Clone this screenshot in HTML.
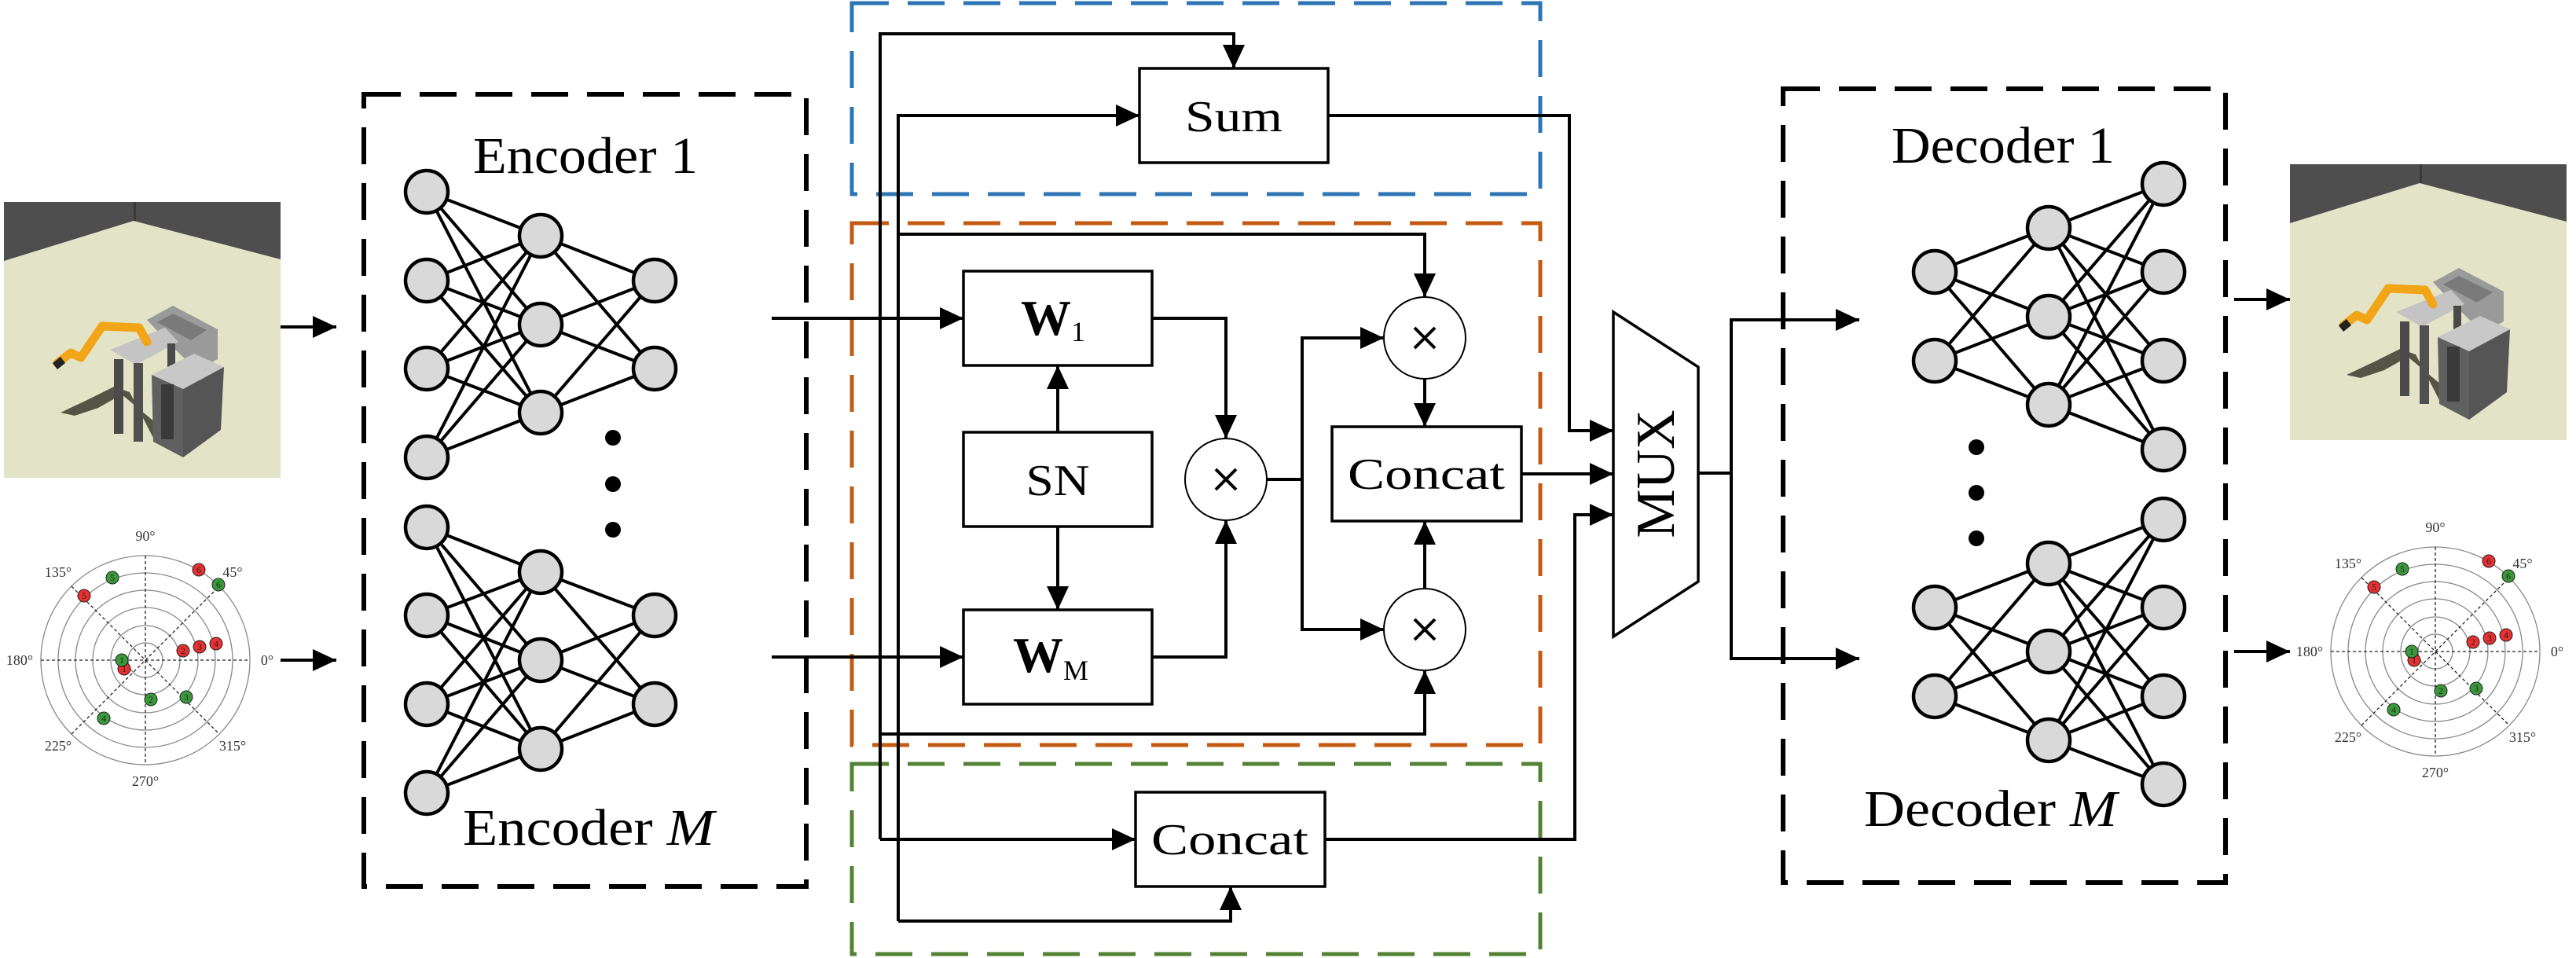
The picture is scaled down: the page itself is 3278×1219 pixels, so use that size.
<!DOCTYPE html>
<html><head><meta charset="utf-8"><style>html,body{margin:0;padding:0;background:#fff}svg{display:block}</style></head>
<body>
<svg width="3278" height="1219" viewBox="0 0 3278 1219" xmlns="http://www.w3.org/2000/svg" font-family="'Liberation Serif', serif">
<defs>
<marker id="a" markerUnits="userSpaceOnUse" markerWidth="30" markerHeight="28" refX="30" refY="14" orient="auto"><path d="M0 0L30 14L0 28z" fill="#000"/></marker>
<g id="scene">
<rect x="0" y="0" width="352" height="351" fill="#e3e3c8"/>
<polygon points="0,0 352,0 352,73 165,24 0,75" fill="#4e4e4e"/>
<polygon points="165,0 168,0 168,24 165,24" fill="#3a3a3a"/>
<polygon points="72,268 110,250 140,235 160,242 190,300 215,318 230,312 180,270 150,245 120,262 90,272" fill="#555545"/>
<polygon points="182,150 215,132 272,162 272,200 245,214 210,180" fill="#9a9a9a"/>
<polygon points="195,153 215,142 258,163 238,176" fill="#7a7a7a"/>
<polygon points="135,188 205,160 222,178 168,207" fill="#c4c4c4"/>
<rect x="140" y="200" width="12" height="95" fill="#4a4a4a"/>
<rect x="165" y="205" width="12" height="100" fill="#505050"/>
<rect x="208" y="180" width="10" height="80" fill="#4a4a4a"/>
<polygon points="188,220 242,193 280,210 228,238" fill="#c8c8c8"/>
<polygon points="188,220 228,238 228,325 190,305" fill="#606060"/>
<polygon points="228,238 280,210 276,290 228,325" fill="#555"/>
<rect x="200" y="232" width="16" height="70" fill="#3a3a3a"/>
<polyline points="68,205 85,192 98,198 125,158 172,160 182,178" fill="none" stroke="#f2a516" stroke-width="11" stroke-linecap="round" stroke-linejoin="round"/>
<path d="M62 205l10 -8l6 8l-10 8z" fill="#222"/>
</g>
<g id="polar">
<g fill="none" stroke="#888" stroke-width="1.3">
<circle r="133"/><circle r="111"/><circle r="89"/><circle r="67"/><circle r="44"/><circle r="22"/>
</g>
<g stroke="#222" stroke-width="1.3" stroke-dasharray="4,3">
<line x1="-133" y1="0" x2="133" y2="0"/><line x1="0" y1="-133" x2="0" y2="133"/>
<line x1="-94" y1="-94" x2="94" y2="94"/><line x1="-94" y1="94" x2="94" y2="-94"/>
</g>
<g stroke="#222" stroke-width="1">
<circle cx="68" cy="-115" r="8" fill="#e83030"/><circle cx="-42" cy="-105" r="8" fill="#3a9a3a"/>
<circle cx="-78" cy="-82" r="8" fill="#e83030"/><circle cx="93" cy="-96" r="8" fill="#3a9a3a"/>
<circle cx="48" cy="-12" r="8" fill="#e83030"/><circle cx="69" cy="-17" r="8" fill="#e83030"/>
<circle cx="90" cy="-21" r="8" fill="#e83030"/><circle cx="-27" cy="11" r="8" fill="#e83030"/>
<circle cx="-30" cy="0" r="8" fill="#3a9a3a"/><circle cx="7" cy="50" r="8" fill="#3a9a3a"/>
<circle cx="52" cy="47" r="8" fill="#3a9a3a"/><circle cx="-53" cy="74" r="8" fill="#3a9a3a"/>
</g>
</g>
</defs>

<use href="#scene" transform="translate(5,257)"/>
<use href="#scene" transform="translate(2914,209)"/>

<g transform="translate(185,840)" font-size="18" fill="#333">
<use href="#polar"/>
<g text-anchor="middle">
<text x="0" y="-152">90°</text><text x="-111" y="-106">135°</text><text x="111" y="-106">45°</text>
<text x="-160" y="6">180°</text><text x="155" y="6">0°</text>
<text x="-111" y="115">225°</text><text x="111" y="115">315°</text><text x="0" y="160">270°</text>
</g>
<g font-size="12" text-anchor="middle" fill="#222">
<text x="68" y="-111">6</text><text x="-42" y="-101">5</text><text x="-78" y="-78">5</text><text x="93" y="-92">6</text>
<text x="48" y="-8">2</text><text x="69" y="-13">3</text><text x="90" y="-17">4</text><text x="-27" y="15">1</text>
<text x="-30" y="4">1</text><text x="7" y="54">2</text><text x="52" y="51">3</text><text x="-53" y="78">4</text>
</g>
</g>
<g transform="translate(3099,829)" font-size="18" fill="#333">
<use href="#polar"/>
<g text-anchor="middle">
<text x="0" y="-152">90°</text><text x="-111" y="-106">135°</text><text x="111" y="-106">45°</text>
<text x="-160" y="6">180°</text><text x="155" y="6">0°</text>
<text x="-111" y="115">225°</text><text x="111" y="115">315°</text><text x="0" y="160">270°</text>
</g>
<g font-size="12" text-anchor="middle" fill="#222">
<text x="68" y="-111">6</text><text x="-42" y="-101">5</text><text x="-78" y="-78">5</text><text x="93" y="-92">6</text>
<text x="48" y="-8">2</text><text x="69" y="-13">3</text><text x="90" y="-17">4</text><text x="-27" y="15">1</text>
<text x="-30" y="4">1</text><text x="7" y="54">2</text><text x="52" y="51">3</text><text x="-53" y="78">4</text>
</g>
</g>

<g stroke="#000" stroke-width="4" marker-end="url(#a)">
<line x1="357" y1="416" x2="428" y2="416"/>
<line x1="357" y1="840" x2="428" y2="840"/>
<line x1="2843" y1="381" x2="2914" y2="381"/>
<line x1="2843" y1="829" x2="2914" y2="829"/>
</g>

<rect x="463" y="120" width="563" height="1008" fill="none" stroke="#000" stroke-width="6" stroke-dasharray="47,24"/>
<rect x="2269" y="113" width="563" height="1010" fill="none" stroke="#000" stroke-width="6" stroke-dasharray="47,24"/>
<rect x="1084" y="4" width="876" height="243" fill="none" stroke="#2e75b6" stroke-width="5" stroke-dasharray="47,24"/>
<rect x="1084" y="284" width="876" height="664" fill="none" stroke="#c55a11" stroke-width="5" stroke-dasharray="47,24"/>
<rect x="1084" y="972" width="876" height="242" fill="none" stroke="#548235" stroke-width="5" stroke-dasharray="47,24"/>

<g stroke="#000" stroke-width="4" fill="none">
<path d="M543 244L688 300M543 244L688 413M543 244L688 525M543 357L688 300M543 357L688 413M543 357L688 525M543 469L688 300M543 469L688 413M543 469L688 525M543 582L688 300M543 582L688 413M543 582L688 525M688 300L833 357M688 300L833 469M688 413L833 357M688 413L833 469M688 525L833 357M688 525L833 469"/>
<path d="M543 671L688 728M543 671L688 840M543 671L688 953M543 783L688 728M543 783L688 840M543 783L688 953M543 896L688 728M543 896L688 840M543 896L688 953M543 1009L688 728M543 1009L688 840M543 1009L688 953M688 728L833 783M688 728L833 896M688 840L833 783M688 840L833 896M688 953L833 783M688 953L833 896"/>
<path d="M2462 346L2607 290M2462 346L2607 403M2462 346L2607 515M2462 459L2607 290M2462 459L2607 403M2462 459L2607 515M2607 290L2753 234M2607 290L2753 346M2607 290L2753 459M2607 290L2753 572M2607 403L2753 234M2607 403L2753 346M2607 403L2753 459M2607 403L2753 572M2607 515L2753 234M2607 515L2753 346M2607 515L2753 459M2607 515L2753 572"/>
<path d="M2462 773L2607 717M2462 773L2607 829M2462 773L2607 942M2462 886L2607 717M2462 886L2607 829M2462 886L2607 942M2607 717L2753 661M2607 717L2753 773M2607 717L2753 886M2607 717L2753 998M2607 829L2753 661M2607 829L2753 773M2607 829L2753 886M2607 829L2753 998M2607 942L2753 661M2607 942L2753 773M2607 942L2753 886M2607 942L2753 998"/>
</g>
<g fill="#d9d9d9" stroke="#000" stroke-width="4.5">
<circle cx="543" cy="244" r="27"/><circle cx="543" cy="357" r="27"/><circle cx="543" cy="469" r="27"/><circle cx="543" cy="582" r="27"/>
<circle cx="688" cy="300" r="27"/><circle cx="688" cy="413" r="27"/><circle cx="688" cy="525" r="27"/>
<circle cx="833" cy="357" r="27"/><circle cx="833" cy="469" r="27"/>
<circle cx="543" cy="671" r="27"/><circle cx="543" cy="783" r="27"/><circle cx="543" cy="896" r="27"/><circle cx="543" cy="1009" r="27"/>
<circle cx="688" cy="728" r="27"/><circle cx="688" cy="840" r="27"/><circle cx="688" cy="953" r="27"/>
<circle cx="833" cy="783" r="27"/><circle cx="833" cy="896" r="27"/>
<circle cx="2462" cy="346" r="27"/><circle cx="2462" cy="459" r="27"/>
<circle cx="2607" cy="290" r="27"/><circle cx="2607" cy="403" r="27"/><circle cx="2607" cy="515" r="27"/>
<circle cx="2753" cy="234" r="27"/><circle cx="2753" cy="346" r="27"/><circle cx="2753" cy="459" r="27"/><circle cx="2753" cy="572" r="27"/>
<circle cx="2462" cy="773" r="27"/><circle cx="2462" cy="886" r="27"/>
<circle cx="2607" cy="717" r="27"/><circle cx="2607" cy="829" r="27"/><circle cx="2607" cy="942" r="27"/>
<circle cx="2753" cy="661" r="27"/><circle cx="2753" cy="773" r="27"/><circle cx="2753" cy="886" r="27"/><circle cx="2753" cy="998" r="27"/>
</g>
<g fill="#000">
<circle cx="780" cy="557" r="10"/><circle cx="780" cy="616" r="10"/><circle cx="780" cy="674" r="10"/>
<circle cx="2515" cy="569" r="10"/><circle cx="2515" cy="627" r="10"/><circle cx="2515" cy="685" r="10"/>
</g>
<g font-size="66" text-anchor="middle" fill="#000">
<text x="745" y="220" textLength="286" lengthAdjust="spacingAndGlyphs">Encoder 1</text>
<text x="749" y="1075" textLength="320" lengthAdjust="spacingAndGlyphs">Encoder <tspan font-style="italic">M</tspan></text>
<text x="2549" y="207" textLength="284" lengthAdjust="spacingAndGlyphs">Decoder 1</text>
<text x="2533" y="1051" textLength="322" lengthAdjust="spacingAndGlyphs">Decoder <tspan font-style="italic">M</tspan></text>
</g>

<g fill="#fff" stroke="#000" stroke-width="3.5">
<rect x="1450" y="87" width="240" height="120"/>
<rect x="1226" y="345" width="240" height="120"/>
<rect x="1226" y="550" width="240" height="120"/>
<rect x="1226" y="776" width="240" height="120"/>
<rect x="1695" y="543" width="241" height="120"/>
<rect x="1445" y="1008" width="241" height="120"/>
<circle cx="1560" cy="610" r="52" stroke-width="2"/>
<circle cx="1813" cy="430" r="52" stroke-width="2"/>
<circle cx="1813" cy="801" r="52" stroke-width="2"/>
<polygon points="2053,397 2161,467 2161,740 2053,810"/>
</g>
<g stroke="#000" stroke-width="4">
<path d="M1547 597L1573 623M1573 597L1547 623"/>
<path d="M1800 417L1826 443M1826 417L1800 443"/>
<path d="M1800 788L1826 814M1826 788L1800 814"/>
</g>
<g font-size="56" text-anchor="middle" fill="#000">
<text x="1570" y="167" textLength="124" lengthAdjust="spacingAndGlyphs">Sum</text>
<text x="1346" y="630" textLength="81" lengthAdjust="spacingAndGlyphs">SN</text>
<text x="1815" y="622" textLength="200" lengthAdjust="spacingAndGlyphs">Concat</text>
<text x="1565" y="1087" textLength="200" lengthAdjust="spacingAndGlyphs">Concat</text>
</g>
<text x="1299" y="426" font-size="64" font-weight="bold">W<tspan font-size="36" font-weight="normal" dy="8">1</tspan></text>
<text x="1289" y="855" font-size="64" font-weight="bold">W<tspan font-size="36" font-weight="normal" dy="10">M</tspan></text>
<text transform="translate(2130,603) rotate(-90)" font-size="70" text-anchor="middle">MUX</text>

<g stroke="#000" stroke-width="4" fill="none">
<polyline points="1120,1068 1120,43 1570,43 1570,87" marker-end="url(#a)"/>
<polyline points="1143,1172 1143,147 1450,147" marker-end="url(#a)"/>
<polyline points="1143,298 1813,298 1813,378" marker-end="url(#a)"/>
<line x1="982" y1="405" x2="1226" y2="405" marker-end="url(#a)"/>
<line x1="982" y1="836" x2="1226" y2="836" marker-end="url(#a)"/>
<line x1="1346" y1="550" x2="1346" y2="465" marker-end="url(#a)"/>
<line x1="1346" y1="670" x2="1346" y2="776" marker-end="url(#a)"/>
<polyline points="1466,405 1560,405 1560,558" marker-end="url(#a)"/>
<polyline points="1466,836 1560,836 1560,662" marker-end="url(#a)"/>
<polyline points="1612,610 1657,610"/>
<polyline points="1657,610 1657,430 1761,430" marker-end="url(#a)"/>
<polyline points="1657,610 1657,801 1761,801" marker-end="url(#a)"/>
<line x1="1813" y1="482" x2="1813" y2="543" marker-end="url(#a)"/>
<line x1="1813" y1="749" x2="1813" y2="663" marker-end="url(#a)"/>
<polyline points="1120,934 1813,934 1813,853" marker-end="url(#a)"/>
<line x1="1120" y1="1068" x2="1445" y2="1068" marker-end="url(#a)"/>
<polyline points="1143,1172 1566,1172 1566,1128" marker-end="url(#a)"/>
<polyline points="1690,147 1997,147 1997,548 2053,548" marker-end="url(#a)"/>
<line x1="1936" y1="603" x2="2053" y2="603" marker-end="url(#a)"/>
<polyline points="1686,1068 2004,1068 2004,655 2053,655" marker-end="url(#a)"/>
<polyline points="2161,602 2203,602"/>
<polyline points="2203,602 2203,407 2366,407" marker-end="url(#a)"/>
<polyline points="2203,602 2203,838 2366,838" marker-end="url(#a)"/>
</g>
</svg>
</body></html>
